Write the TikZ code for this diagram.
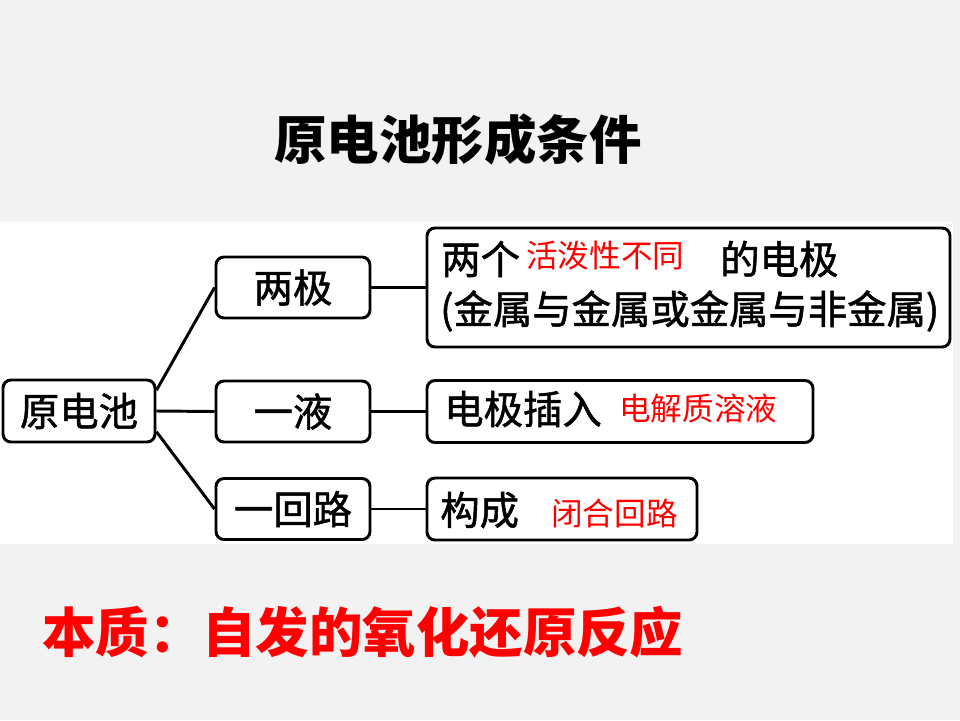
\documentclass[tikz,border=0pt]{standalone}
\usepackage{fontspec}
\setmainfont{Noto Sans CJK SC}
\newfontfamily\medfont[FakeBold=1.3]{Noto Sans CJK SC}
\usetikzlibrary{positioning}
\definecolor{slidebg}{RGB}{242,242,242}
\tikzset{
  keybox/.style={draw, line width=2.1pt, rounded corners=2mm, fill=white, minimum width=38.5mm, minimum height=15.25mm, inner sep=0pt, font=\medfont\fontsize{28}{32}\selectfont},
  infobox/.style={draw, line width=2.1pt, rounded corners=2mm, fill=white, minimum height=15.5mm, inner sep=0pt},
  blacktxt/.style={anchor=west, inner sep=0pt, font=\medfont\fontsize{28}{32}\selectfont},
  redtxt/.style={anchor=west, inner sep=0pt, text=red, font=\fontsize{22.5}{26}\selectfont},
  link/.style={line width=2.1pt},
}
\begin{document}
\begin{tikzpicture}[x=0.25mm,y=-0.25mm]
  \useasboundingbox (0,0) rectangle (960,720);
  \fill[slidebg] (0,0) rectangle (960,720);
  \fill[white] (0,222) rectangle (953,544);

  \node[font=\fontsize{37.3}{42}\selectfont\bfseries] (title) at (458,140) {原电池形成条件};

  \node[keybox, minimum width=38mm, minimum height=15.5mm] (root) at (79,411) {原电池};
  \node[keybox] (liangji)  at (293,287.5) {两极};
  \node[keybox] (yiye)     at (293,411.5) {一液};
  \node[keybox] (yihuilu)  at (293,509)   {一回路};

  \node[infobox, minimum width=130.75mm, minimum height=29.75mm] (dianji) at (688.5,287.5) {};
  \node[infobox, minimum width=96.5mm] (rongye) at (620,411.5) {};
  \node[infobox, minimum width=67.5mm] (huilu)  at (562,509)   {};

  \draw[link] (root.15)  -- (liangji.west);
  \draw[link] (root.east) -- (yiye.west);
  \draw[link] (root.-15) -- (yihuilu.west);
  \draw[link] (liangji.east) -- (dianji.west);
  \draw[link] (yiye.east) -- (rongye.west);
  \draw[link] (yihuilu.east) -- (huilu.west);

  \node[blacktxt] (lianggetxt) at (441,259) {两个};
  \node[redtxt]   (huopotxt)   at (526,256) {活泼性不同};
  \node[blacktxt] (dianjitxt)  at (720,259) {的电极};
  \node[blacktxt] (jinshutxt)  at (440,311) {(金属与金属或金属与非金属)};
  \node[blacktxt] (charutxt)   at (444,409) {电极插入};
  \node[redtxt]   (jiezhitxt)  at (619,408) {电解质溶液};
  \node[blacktxt] (gouchengtxt) at (440,510) {构成};
  \node[redtxt]   (bihetxt)    at (551,513) {闭合回路};

  \node[anchor=west, inner sep=0pt, text=red, font=\fontsize{38}{44}\selectfont\bfseries] (benzhi) at (42,632) {本质：自发的氧化还原反应};
\end{tikzpicture}
\end{document}
